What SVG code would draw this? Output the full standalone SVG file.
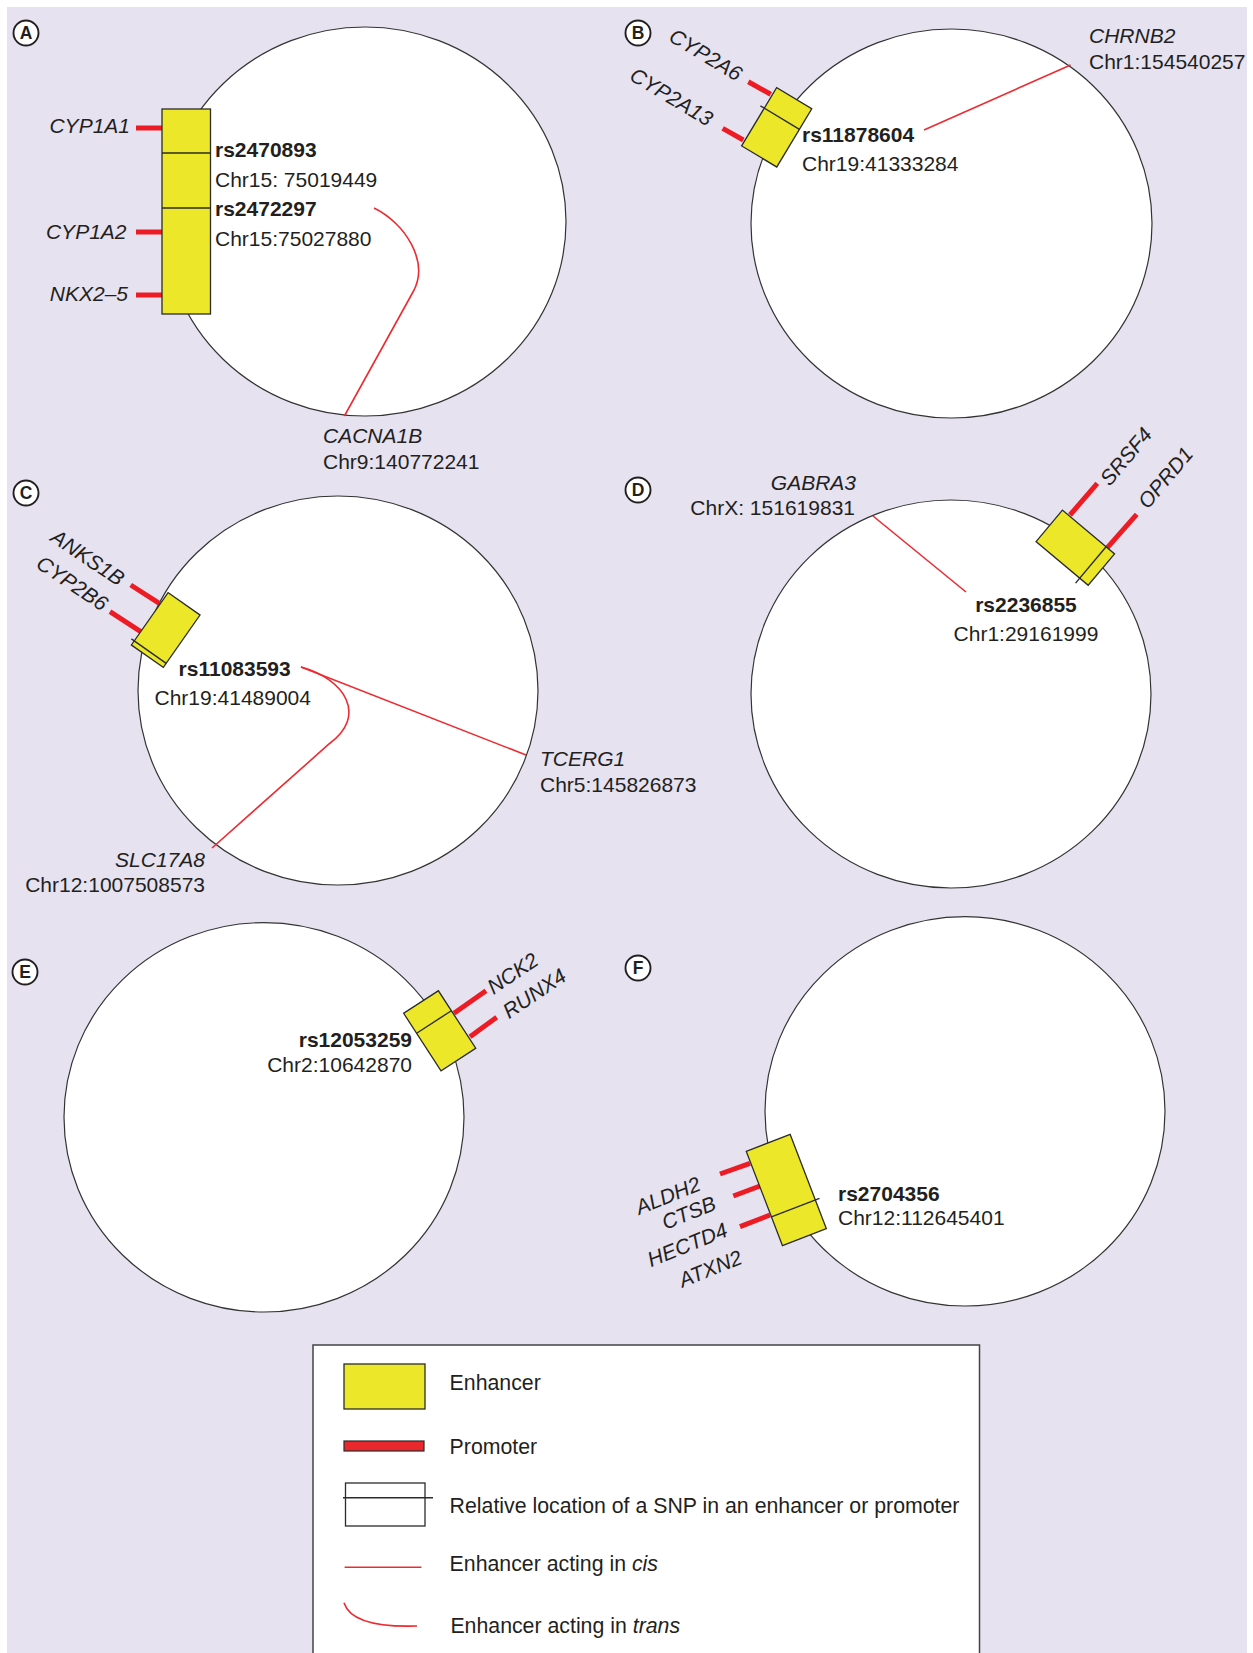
<svg xmlns="http://www.w3.org/2000/svg" width="1253" height="1653" viewBox="0 0 1253 1653">
<style>
text{font-family:"Liberation Sans",Arial,Helvetica,sans-serif;font-size:21px;fill:#231f20}
.b{font-weight:bold}
.i{font-style:italic}
.lg{font-size:21.3px}
.cell{fill:#fff;stroke:#333;stroke-width:1.2}
.enh{fill:#ece829;stroke:#2b2b2b;stroke-width:1.3}
.div{stroke:#2b2b2b;stroke-width:1.4;fill:none}
.pro{stroke:#ed1c24;stroke-width:5;fill:none}
.ln{stroke:#ee2a30;stroke-width:1.6;fill:none}
.tag circle{fill:#fff;stroke:#231f20;stroke-width:1.9}
.tag text{font-weight:bold;font-size:17.5px;text-anchor:middle}
</style>
<rect x="0" y="0" width="1253" height="1653" fill="#fff"/>
<rect x="7" y="7" width="1240" height="1646" fill="#e6e2f0"/>

<g id="panel-A">
  <ellipse class="cell" cx="365" cy="221.5" rx="201" ry="194.5"/>
  <g class="tag"><circle cx="26" cy="33" r="12.5"/><text x="26" y="39.3">A</text></g>
  <line class="pro" x1="136" y1="128" x2="162" y2="128"/>
  <line class="pro" x1="136" y1="232" x2="162" y2="232"/>
  <line class="pro" x1="136" y1="295" x2="162" y2="295"/>
  <rect class="enh" x="162" y="109" width="48.5" height="205"/>
  <line class="div" x1="162" y1="153" x2="210.5" y2="153"/>
  <line class="div" x1="162" y1="208" x2="210.5" y2="208"/>
  <text class="i" x="130" y="133" text-anchor="end">CYP1A1</text>
  <text class="i" x="126.5" y="239" text-anchor="end">CYP1A2</text>
  <text class="i" x="128" y="301" text-anchor="end">NKX2–5</text>
  <text class="b" x="215" y="157">rs2470893</text>
  <text x="215" y="187">Chr15: 75019449</text>
  <text class="b" x="215" y="216">rs2472297</text>
  <text x="215" y="246">Chr15:75027880</text>
  <text class="i" x="323" y="443">CACNA1B</text>
  <text x="323" y="469">Chr9:140772241</text>
</g>

<g id="panel-B">
  <ellipse class="cell" cx="951.5" cy="223.5" rx="200.5" ry="194.5"/>
  <g class="tag"><circle cx="638" cy="33" r="12.5"/><text x="638" y="39.3">B</text></g>
  <line class="pro" x1="748.3" y1="81.7" x2="770.7" y2="94.3"/>
  <line class="pro" x1="722.7" y1="128.3" x2="743.3" y2="140"/>
  <g transform="translate(776.7,127.3) rotate(-59)">
    <rect class="enh" x="-34" y="-20.5" width="68" height="41"/>
    <line class="div" x1="10" y1="-25" x2="10" y2="20.5"/>
  </g>
  <text class="i" text-anchor="end" transform="translate(736.5,81.7) rotate(31)">CYP2A6</text>
  <text class="i" text-anchor="end" transform="translate(707.3,126.7) rotate(31)">CYP2A13</text>
  <text class="b" x="802" y="142">rs11878604</text>
  <text x="802" y="171">Chr19:41333284</text>
  <text class="i" x="1089" y="43">CHRNB2</text>
  <text x="1089" y="69">Chr1:154540257</text>
</g>

<g id="panel-C">
  <ellipse class="cell" cx="338" cy="690.5" rx="200" ry="194.5"/>
  <g class="tag"><circle cx="26" cy="493" r="12.5"/><text x="26" y="499.3">C</text></g>
  <line class="pro" x1="130.7" y1="585" x2="159.3" y2="603.3"/>
  <line class="pro" x1="110" y1="611.7" x2="140.7" y2="631.7"/>
  <g transform="translate(165.7,630) rotate(-55)">
    <rect class="enh" x="-32" y="-19.5" width="64" height="39"/>
    <line class="div" x1="-27" y1="-23" x2="-27" y2="19.5"/>
  </g>
  <text class="i" text-anchor="end" transform="translate(118,586.7) rotate(34)">ANKS1B</text>
  <text class="i" text-anchor="end" transform="translate(101.6,611.7) rotate(34)">CYP2B6</text>
  <text class="b" x="178.6" y="676">rs11083593</text>
  <text x="154.5" y="705">Chr19:41489004</text>
  <text class="i" x="540" y="766">TCERG1</text>
  <text x="540" y="792">Chr5:145826873</text>
  <text class="i" x="205" y="867" text-anchor="end">SLC17A8</text>
  <text x="205" y="892" text-anchor="end">Chr12:1007508573</text>
</g>

<g id="panel-D">
  <ellipse class="cell" cx="951" cy="694" rx="200" ry="194"/>
  <g class="tag"><circle cx="638" cy="490" r="12.5"/><text x="638" y="496.3">D</text></g>
  <line class="pro" x1="1070" y1="515" x2="1097.3" y2="483.3"/>
  <line class="pro" x1="1106.7" y1="548.3" x2="1136.7" y2="514.3"/>
  <g transform="translate(1075.3,547.7) rotate(40)">
    <rect class="enh" x="-34" y="-20.5" width="68" height="41"/>
    <line class="div" x1="23" y1="-20.5" x2="23" y2="27"/>
  </g>
  <text class="i" transform="translate(1109.7,487) rotate(-50)">SRSF4</text>
  <text class="i" transform="translate(1147.7,510) rotate(-50)">OPRD1</text>
  <text class="i" x="856" y="490" text-anchor="end">GABRA3</text>
  <text x="855" y="515" text-anchor="end">ChrX: 151619831</text>
  <text class="b" x="1026" y="611.7" text-anchor="middle">rs2236855</text>
  <text x="1026" y="640.7" text-anchor="middle">Chr1:29161999</text>
</g>

<g id="panel-E">
  <ellipse class="cell" cx="264" cy="1117.3" rx="200" ry="194.7"/>
  <g class="tag"><circle cx="25" cy="972" r="12.5"/><text x="25" y="978.3">E</text></g>
  <line class="pro" x1="454" y1="1013.3" x2="486" y2="990.7"/>
  <line class="pro" x1="470" y1="1036.7" x2="496.7" y2="1017.3"/>
  <g transform="translate(439.7,1030.8) rotate(57)">
    <rect class="enh" x="-34.3" y="-20.7" width="68.6" height="41.4"/>
    <line class="div" x1="-10.5" y1="-20.7" x2="-10.5" y2="20.7"/>
  </g>
  <text class="i" transform="translate(493.5,995) rotate(-34)">NCK2</text>
  <text class="i" transform="translate(509,1019.3) rotate(-34)">RUNX4</text>
  <text class="b" x="412" y="1047" text-anchor="end">rs12053259</text>
  <text x="412" y="1072" text-anchor="end">Chr2:10642870</text>
</g>

<g id="panel-F">
  <ellipse class="cell" cx="965" cy="1111.3" rx="200" ry="194.7"/>
  <g class="tag"><circle cx="638" cy="968" r="12.5"/><text x="638" y="974.3">F</text></g>
  <line class="pro" x1="720" y1="1174" x2="750" y2="1163.3"/>
  <line class="pro" x1="733.3" y1="1196" x2="760" y2="1186"/>
  <line class="pro" x1="740" y1="1226.7" x2="770" y2="1215"/>
  <g transform="translate(786.3,1190) rotate(-21)">
    <rect class="enh" x="-23.5" y="-50.5" width="47" height="101"/>
    <line class="div" x1="-23.5" y1="19.7" x2="28" y2="19.7"/>
  </g>
  <text class="i" text-anchor="end" transform="translate(702,1189.7) rotate(-22)">ALDH2</text>
  <text class="i" text-anchor="end" transform="translate(717.5,1209) rotate(-22)">CTSB</text>
  <text class="i" text-anchor="end" transform="translate(729,1235.7) rotate(-22)">HECTD4</text>
  <text class="i" text-anchor="end" transform="translate(743.7,1263) rotate(-22)">ATXN2</text>
  <text class="b" x="838" y="1201">rs2704356</text>
  <text x="838" y="1225">Chr12:112645401</text>
</g>

<g id="connectors">
  <path class="ln" d="M374,208 C405,223 430,262 413,292 L344.4,416"/>
  <line class="ln" x1="924" y1="130" x2="1070.6" y2="65"/>
  <line class="ln" x1="301" y1="667" x2="526" y2="755"/>
  <path class="ln" d="M301,667 C345,679 368,716 329,744 L212,848"/>
  <line class="ln" x1="873" y1="516" x2="966" y2="592"/>
</g>

<g id="legend">
  <rect x="313" y="1345" width="666.5" height="330" fill="#fff" stroke="#444" stroke-width="1.5"/>
  <rect class="enh" x="344" y="1364" width="81" height="45"/>
  <text class="lg" x="449.6" y="1390">Enhancer</text>
  <rect x="344" y="1441" width="80" height="10" fill="#e8282d" stroke="#2b2b2b" stroke-width="1.2"/>
  <text class="lg" x="449.6" y="1454">Promoter</text>
  <rect x="345.5" y="1483" width="79.5" height="43" fill="#fff" stroke="#2b2b2b" stroke-width="1.3"/>
  <line class="div" x1="343" y1="1497.7" x2="433" y2="1497.7"/>
  <text class="lg" x="449.6" y="1512.7">Relative location of a SNP in an enhancer or promoter</text>
  <line class="ln" x1="344.6" y1="1567.3" x2="421.4" y2="1567.3"/>
  <text class="lg" x="449.6" y="1570.7">Enhancer acting in <tspan class="i">cis</tspan></text>
  <path class="ln" d="M344,1602.7 Q352,1628 417,1626"/>
  <text class="lg" x="450.4" y="1633.3">Enhancer acting in <tspan class="i">trans</tspan></text>
</g>
</svg>
